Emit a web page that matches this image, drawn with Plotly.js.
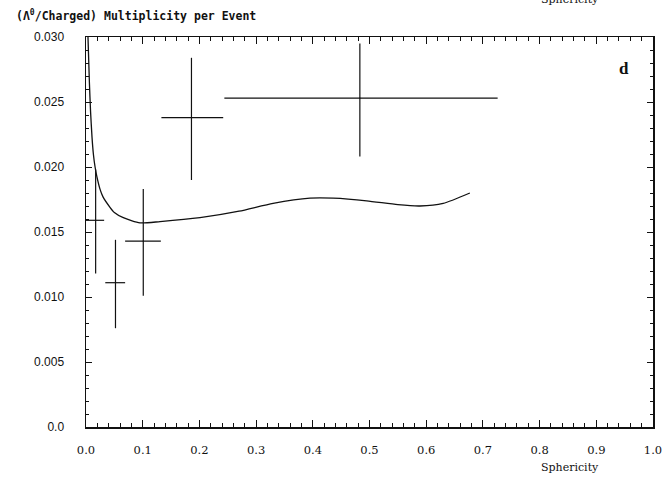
<!DOCTYPE html>
<html>
<head>
<meta charset="utf-8">
<script src="https://cdn.plot.ly/plotly-3.0.1.min.js"></script>
<style>html,body{margin:0;padding:0;background:#fff;}#chart{width:667px;height:482px;}</style>
</head>
<body>
<div id="chart"></div>
<script>
// Data points (Sphericity bins)
var sphericity = [0.017, 0.052, 0.101, 0.186, 0.483];
var ratio      = [0.0159, 0.0111, 0.0143, 0.0238, 0.0253];
var binLow     = [0.000, 0.034, 0.069, 0.133, 0.244];
var binHigh    = [0.032, 0.069, 0.132, 0.242, 0.726];
var ratioLow   = [0.0118, 0.0076, 0.0101, 0.0190, 0.0208];
var ratioHigh  = [0.0198, 0.0144, 0.0183, 0.0284, 0.0295];

// Model curve
var curveX = [0.0035, 0.006, 0.008, 0.0106, 0.013, 0.016, 0.019, 0.0247, 0.030, 0.0423, 0.050, 0.0658, 0.0952, 0.1305, 0.201, 0.27, 0.33, 0.395, 0.436, 0.495, 0.55, 0.589, 0.630, 0.677];
var curveY = [0.0300, 0.0265, 0.0243, 0.0223, 0.0210, 0.0200, 0.0193, 0.0183, 0.0177, 0.0169, 0.0165, 0.0161, 0.0157, 0.0158, 0.0161, 0.0166, 0.0172, 0.0176, 0.0176, 0.0174, 0.0171, 0.0170, 0.0172, 0.0180];

var xTickVals = [0,0.1,0.2,0.3,0.4,0.5,0.6,0.7,0.8,0.9,1.0];
var xTickText = ['0.0','0.1','0.2','0.3','0.4','0.5','0.6','0.7','0.8','0.9','1.0'];
var yTickVals = [0,0.005,0.010,0.015,0.020,0.025,0.030];
var yTickText = ['0.0','0.005','0.010','0.015','0.020','0.025','0.030'];

var xPlus = sphericity.map(function(v,i){return binHigh[i]-v;});
var xMinus = sphericity.map(function(v,i){return v-binLow[i];});
var yPlus = ratio.map(function(v,i){return ratioHigh[i]-v;});
var yMinus = ratio.map(function(v,i){return v-ratioLow[i];});

var traces = [
  {
    x: curveX, y: curveY, mode: 'lines', type: 'scatter',
    line: {color: '#111', width: 1.3, shape: 'spline', smoothing: 0.6},
    hoverinfo: 'skip'
  },
  {
    x: sphericity, y: ratio, mode: 'markers', type: 'scatter',
    marker: {size: 1, color: '#111'},
    error_x: {type: 'data', symmetric: false, array: xPlus, arrayminus: xMinus, width: 0, thickness: 1.2, color: '#111'},
    error_y: {type: 'data', symmetric: false, array: yPlus, arrayminus: yMinus, width: 0, thickness: 1.2, color: '#111'}
  }
];

var axisCommon = {
  showgrid: false, zeroline: false, showline: true, linecolor: '#111', linewidth: 1.5,
  mirror: 'ticks', ticks: 'inside', tickcolor: '#111', tickwidth: 1
};

var layout = {
  width: 667, height: 482,
  margin: {l: 86, r: 14, t: 37, b: 55},
  paper_bgcolor: '#fff', plot_bgcolor: '#fff',
  showlegend: false,
  xaxis: Object.assign({}, axisCommon, {
    range: [0, 1.0], tickvals: xTickVals, ticktext: xTickText, ticklen: 7,
    minor: {dtick: 0.02, tick0: 0, ticklen: 4, ticks: 'inside', tickcolor: '#111', tickwidth: 1},
    tickfont: {family: 'DejaVu Serif', size: 11.5, color: '#111'},
    ticklabelstandoff: 12
  }),
  yaxis: Object.assign({}, axisCommon, {
    range: [0, 0.030], tickvals: yTickVals, ticktext: yTickText, ticklen: 6,
    minor: {dtick: 0.001, tick0: 0, ticklen: 3, ticks: 'inside', tickcolor: '#111', tickwidth: 1},
    tickfont: {family: 'Liberation Sans', size: 12, color: '#111'},
    ticklabelstandoff: 18
  }),
  annotations: [
    {text: '<b>(Λ<sup>0</sup>/Charged) Multiplicity per Event</b>', xref: 'paper', yref: 'paper', x: -0.127, y: 1.056,
     xanchor: 'left', yanchor: 'middle', showarrow: false, font: {family: 'DejaVu Sans Mono', size: 11.5, color: '#111'}},
    {text: 'Sphericity', xref: 'paper', yref: 'paper', x: 0.854, y: -0.105,
     xanchor: 'center', yanchor: 'middle', showarrow: false, font: {family: 'DejaVu Serif', size: 11, color: '#111'}},
    {text: 'Sphericity', xref: 'paper', yref: 'paper', x: 0.854, y: 1.0974,
     xanchor: 'center', yanchor: 'middle', showarrow: false, font: {family: 'DejaVu Serif', size: 11, color: '#111'}},
    {text: '<b>d</b>', xref: 'paper', yref: 'paper', x: 0.949, y: 0.92,
     xanchor: 'center', yanchor: 'middle', showarrow: false, font: {family: 'Liberation Serif', size: 17, color: '#111'}}
  ]
};

Plotly.newPlot('chart', traces, layout, {displayModeBar: false, staticPlot: true});
</script>
</body>
</html>
